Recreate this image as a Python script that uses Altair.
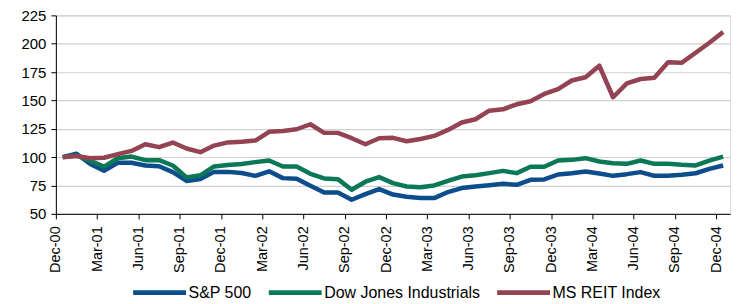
import altair as alt
import pandas as pd

tick_labels = ["Dec-00", "Mar-01", "Jun-01", "Sep-01", "Dec-01", "Mar-02", "Jun-02",
               "Sep-02", "Dec-02", "Mar-03", "Jun-03", "Sep-03", "Dec-03", "Mar-04",
               "Jun-04", "Sep-04", "Dec-04"]

series_names = ["S&P 500", "Dow Jones Industrials", "MS REIT Index"]

sp500 = [100, 103, 94, 88, 95, 95, 92.6, 92, 86.8, 79, 80.6, 87, 87, 86, 83.5, 87.5,
         81.5, 81, 74.7, 68.8, 68.8, 62.4, 67.4, 71.8, 67, 65, 63.9, 63.9, 69.2, 72.7,
         74.1, 75.3, 76.5, 75.6, 80, 80.3, 84.7, 85.8, 87.3, 85.6, 83.5, 85, 86.8, 83.5,
         83.5, 84.4, 85.8, 89.7, 92.6]

dow = [100, 101.5, 96.7, 91.7, 99, 100.5, 97.3, 97.3, 92.6, 82, 84, 91.8, 93, 94,
       95.6, 97, 91.7, 91.7, 85.3, 81.2, 80.6, 71.2, 78.3, 82.4, 77.1, 74.1, 73.5, 75,
       79.1, 82.9, 84.1, 85.9, 87.9, 85.9, 91.5, 91.5, 97, 97.6, 99.1, 96.2, 94.7, 94.1,
       97, 94.1, 94.1, 93.2, 92.7, 97, 100.5]

reit = [100, 101, 99, 99.5, 102.6, 105.5, 111.4, 108.8, 112.9, 107.6, 104.4, 110.2,
        113, 113.5, 114.6, 122.3, 123, 124.6, 129, 121.4, 121.4, 116.7, 111.4, 116.7,
        117, 114, 116, 118.7, 124, 130.5, 133.4, 141, 142.2, 146.6, 149.3, 155.7, 160,
        167.6, 170.4, 180.6, 152.8, 165.1, 168.9, 170.1, 183.6, 183.3, 192.1, 200.9, 210.3]

colors = ["#0c4d8c", "#0b7857", "#934352"]

rows = []
for name, vals in zip(series_names, [sp500, dow, reit]):
    for i, v in enumerate(vals):
        rows.append({"series": name, "idx": i, "value": v})
df = pd.DataFrame(rows)

label_arr = "[" + ",".join("'" + t + "'" for t in tick_labels) + "]"
x_values = [-0.5 + 3 * k for k in range(len(tick_labels))]

chart = alt.Chart(df).mark_line(strokeWidth=4.5, strokeJoin="round").encode(
    x=alt.X("idx:Q",
            scale=alt.Scale(domain=[-0.5, 48.5], nice=False, zero=False),
            axis=alt.Axis(values=x_values,
                          labelExpr=label_arr + "[round((datum.value + 0.5) / 3)]",
                          labelAngle=-90, title=None, grid=False, tickSize=5,
                          labelPadding=7, labelFlush=False, labelOverlap=False,
                          domainColor="black", tickColor="black", labelColor="black",
                          labelFontSize=14.5, labelFont="Liberation Sans")),
    y=alt.Y("value:Q",
            scale=alt.Scale(domain=[50, 225], nice=False, zero=False),
            axis=alt.Axis(values=[50, 75, 100, 125, 150, 175, 200, 225], title=None,
                          grid=True, gridColor="#d0d0d0", gridWidth=1.2, tickSize=5,
                          labelPadding=5, domainColor="black", tickColor="black",
                          labelColor="black", labelFontSize=15,
                          labelFont="Liberation Sans")),
    color=alt.Color("series:N",
                    scale=alt.Scale(domain=series_names, range=colors),
                    legend=alt.Legend(title=None, orient="none", direction="horizontal",
                                      legendX=75, legendY=249,
                                      symbolType="stroke", symbolSize=2809,
                                      symbolStrokeWidth=5, labelOffset=0,
                                      columnPadding=6, labelFontSize=16,
                                      labelFont="Liberation Sans", labelColor="black")),
    order=alt.Order("idx:Q"),
).properties(
    width=676, height=199,
    autosize=alt.AutoSizeParams(type="none"),
    padding={"left": 48, "top": 7, "right": 5, "bottom": 90},
).configure_view(stroke=None).configure(background="white")

chart.save("out.html", embed_options={"renderer": "svg", "actions": False})
